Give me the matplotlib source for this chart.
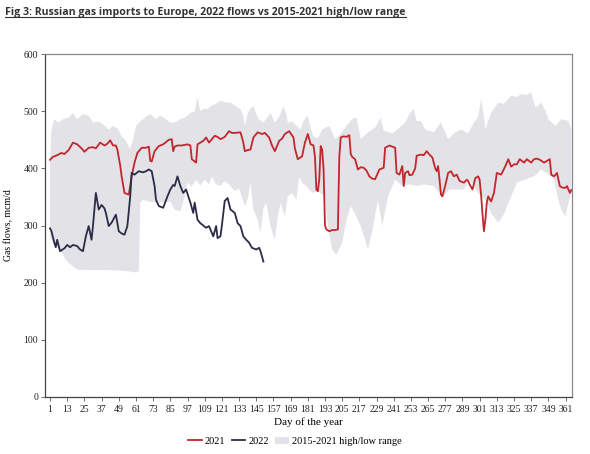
import numpy as np
import matplotlib.pyplot as plt
from matplotlib.lines import Line2D
from matplotlib.patches import Patch

# 2021 flows (day of year, mcm/d)
days_2021 = [1, 3, 6, 9, 11, 14, 17, 20, 23, 25, 28, 31, 33, 36, 39, 41, 43, 45, 47, 48,
             50, 51, 53, 55, 56, 58, 60, 62, 65, 68, 70, 71, 72, 74, 77, 80, 84, 86, 87, 88,
             90, 93, 97, 99, 100, 103, 104, 106, 108, 110, 112, 116, 118, 120, 123, 126, 128, 130, 134, 136,
             137, 139, 141, 143, 146, 149, 151, 154, 156, 158, 161, 163, 165, 168, 171, 172, 174, 177, 179, 181,
             183, 185, 186, 187, 188, 189, 190, 191, 192, 193, 194, 196, 198, 200, 202, 203, 204, 206, 208, 210,
             211, 212, 214, 216, 218, 220, 222, 224, 226, 228, 231, 234, 235, 238, 241, 242, 243, 245, 247, 248,
             249, 251, 252, 254, 256, 257, 260, 262, 264, 266, 268, 270, 271, 272, 273, 274, 275, 277, 279, 281,
             283, 285, 287, 290, 292, 293, 294, 296, 298, 300, 301, 302, 303, 304, 305, 306, 307, 309, 311, 313,
             316, 319, 321, 323, 325, 327, 329, 332, 334, 337, 339, 341, 343, 346, 348, 350, 351, 353, 355, 357,
             359, 361, 362, 364, 365]
flows_2021 = [415, 420, 423, 427, 425, 432, 445, 442, 435, 429, 436, 437, 435, 445, 440, 443, 449, 440, 440, 433,
              405, 386, 357, 355, 354, 386, 410, 427, 436, 436, 438, 413, 412, 430, 439, 442, 450, 451, 430, 438,
              440, 440, 442, 440, 416, 410, 442, 445, 448, 454, 445, 457, 455, 451, 455, 465, 462, 462, 463, 445,
              430, 432, 433, 454, 463, 460, 462, 454, 440, 430, 448, 452, 460, 465, 454, 435, 416, 421, 445, 460,
              442, 440, 420, 363, 360, 380, 439, 433, 400, 300, 293, 290, 292, 292, 293, 420, 454, 456, 455, 458,
              425, 420, 416, 398, 402, 401, 396, 386, 382, 381, 398, 401, 436, 440, 437, 436, 392, 389, 404, 369,
              392, 395, 388, 389, 400, 422, 424, 423, 430, 424, 419, 400, 395, 404, 380, 354, 351, 370, 392, 395,
              386, 389, 378, 375, 380, 378, 372, 363, 383, 386, 380, 354, 320, 290, 310, 340, 351, 342, 357, 392,
              389, 404, 416, 403, 407, 407, 416, 410, 416, 410, 416, 417, 415, 410, 413, 416, 389, 386, 392, 369,
              366, 366, 369, 357, 362]

# 2022 flows
days_2022 = [1, 2, 4, 5, 6, 8, 11, 13, 15, 17, 20, 22, 24, 26, 28, 30, 31, 33, 35, 37,
             39, 40, 42, 44, 47, 49, 51, 53, 55, 57, 58, 60, 63, 66, 68, 70, 72, 74, 75, 77,
             80, 83, 85, 87, 88, 90, 92, 94, 96, 99, 101, 102, 104, 106, 108, 110, 112, 115, 117, 118,
             120, 121, 123, 125, 127, 130, 132, 134, 136, 138, 140, 142, 145, 147, 148, 150]
flows_2022 = [295, 290, 270, 262, 275, 255, 260, 266, 262, 266, 264, 258, 255, 281, 299, 275, 300, 357, 328, 336,
              330, 322, 299, 305, 319, 290, 286, 284, 299, 351, 392, 389, 395, 393, 395, 398, 395, 369, 345, 334,
              331, 351, 363, 371, 369, 386, 369, 357, 363, 340, 322, 340, 310, 304, 300, 296, 299, 281, 299, 278,
              281, 300, 343, 348, 328, 322, 304, 299, 281, 275, 270, 261, 258, 261, 255, 237]

# 2015-2021 high/low range
high_days = [1, 2, 4, 7, 10, 14, 17, 20, 24, 28, 31, 35, 39, 42, 45, 48, 51, 54, 57, 59,
             61, 64, 68, 71, 75, 78, 82, 85, 88, 92, 96, 99, 102, 104, 106, 108, 111, 114, 116, 120,
             124, 127, 131, 134, 136, 137, 139, 141, 143, 145, 147, 150, 153, 155, 158, 161, 164, 166, 167, 170,
             173, 176, 178, 181, 183, 185, 188, 191, 196, 200, 204, 208, 212, 215, 218, 223, 228, 232, 234, 240,
             245, 249, 252, 255, 257, 260, 263, 269, 274, 279, 284, 288, 293, 297, 300, 302, 304, 305, 309, 314,
             318, 323, 327, 330, 334, 337, 340, 344, 347, 349, 354, 358, 363, 365]
high_vals = [410, 468, 486, 480, 486, 489, 497, 486, 495, 492, 480, 482, 475, 468, 474, 470, 456, 448, 433, 451,
             474, 482, 490, 495, 486, 492, 486, 480, 480, 486, 490, 497, 500, 524, 500, 504, 504, 510, 512, 518,
             515, 515, 508, 504, 490, 474, 495, 505, 509, 495, 486, 480, 490, 497, 480, 490, 509, 495, 480, 482,
             475, 468, 483, 492, 470, 456, 452, 468, 474, 451, 460, 474, 486, 489, 451, 463, 471, 489, 466, 461,
             471, 480, 495, 504, 483, 483, 468, 463, 480, 451, 463, 468, 461, 480, 490, 521, 490, 468, 497, 515,
             513, 527, 525, 530, 528, 533, 506, 515, 500, 486, 474, 486, 483, 468]
low_days = [1, 3, 6, 9, 12, 14, 17, 20, 30, 40, 50, 55, 60, 63, 64, 66, 70, 75, 80, 85,
            88, 92, 95, 97, 100, 103, 106, 109, 112, 114, 117, 120, 123, 126, 130, 133, 135, 137, 139, 141,
            143, 146, 148, 150, 152, 155, 158, 160, 162, 165, 167, 170, 173, 175, 177, 180, 184, 188, 193, 195,
            198, 201, 205, 208, 211, 214, 218, 221, 223, 226, 230, 233, 237, 242, 247, 252, 257, 262, 269, 275,
            280, 285, 290, 294, 300, 305, 309, 314, 318, 323, 327, 332, 339, 344, 349, 353, 356, 358, 361, 363,
            365]
low_vals = [280, 270, 262, 253, 240, 235, 228, 223, 222, 222, 221, 220, 218, 220, 340, 345, 342, 340, 340, 342,
            328, 325, 350, 375, 368, 380, 370, 380, 372, 386, 372, 369, 378, 372, 360, 365, 350, 334, 346, 375,
            328, 310, 287, 330, 340, 299, 275, 315, 340, 316, 351, 357, 345, 385, 375, 369, 357, 360, 351, 299,
            258, 249, 270, 310, 334, 320, 299, 275, 258, 290, 345, 299, 351, 380, 369, 372, 369, 372, 369, 351,
            363, 363, 363, 380, 357, 345, 322, 305, 320, 351, 375, 380, 386, 398, 390, 380, 345, 328, 316, 340,
            357]

xtick_labels = list(range(1, 362, 12))

red = '#c1272d'
navy = '#2a2c48'
band = '#e2e2e7'
serif = 'Liberation Serif'

fig = plt.figure(figsize=(5.9, 4.54), dpi=100)
ax = fig.add_axes([0.0763, 0.1256, 0.8932, 0.7554])

ax.fill(high_days + low_days[::-1], high_vals + low_vals[::-1], color=band, lw=0, zorder=1)
ax.plot(days_2021, flows_2021, color=red, lw=1.3, zorder=3)
ax.plot(days_2022, flows_2022, color=navy, lw=1.3, zorder=3)

ax.set_xlim(-2.5, 365.5)
ax.set_ylim(0, 600)
ax.set_yticks(range(0, 601, 100))
ax.set_xticks(xtick_labels)
ax.set_xticklabels([str(d) for d in xtick_labels], fontsize=7, family=serif)
ax.set_yticklabels([str(v) for v in range(0, 601, 100)], fontsize=7, family=serif)
ax.tick_params(length=3, width=0.6, color='#555555', pad=2, labelcolor='#222222')
ax.tick_params(axis='x', pad=3)
for s in ax.spines.values():
    s.set_color('#888888')
    s.set_linewidth(0.9)
ax.spines['left'].set_color('#444444')
ax.spines['bottom'].set_color('#444444')

ax.set_xlabel('Day of the year', fontsize=8, family=serif, labelpad=2)
ax.set_ylabel('Gas flows, mcm/d', fontsize=7, family=serif, labelpad=7)

handles = [Line2D([], [], color=red, lw=1.3),
           Line2D([], [], color=navy, lw=1.3),
           Patch(facecolor=band, edgecolor='none')]
fig.legend(handles, ['2021', '2022', '2015-2021 high/low range'], loc='center',
           bbox_to_anchor=(0.5, 0.028), ncol=3, frameon=False, handlelength=1.3,
           handletextpad=0.3, columnspacing=0.6, prop={'family': serif, 'size': 7.5})

title = fig.text(0.009, 0.972, 'Fig 3: Russian gas imports to Europe, 2022 flows vs 2015-2021 high/low range',
                 fontsize=7.6, fontweight='bold', family='Open Sans',
                 color='#333333', va='center')
fig.canvas.draw()
bb = title.get_window_extent().transformed(fig.transFigure.inverted())
fig.add_artist(Line2D([bb.x0, bb.x1], [bb.y0 + 0.002, bb.y0 + 0.002], color='#333333', lw=0.8))

fig.savefig('out.png', dpi=100)
